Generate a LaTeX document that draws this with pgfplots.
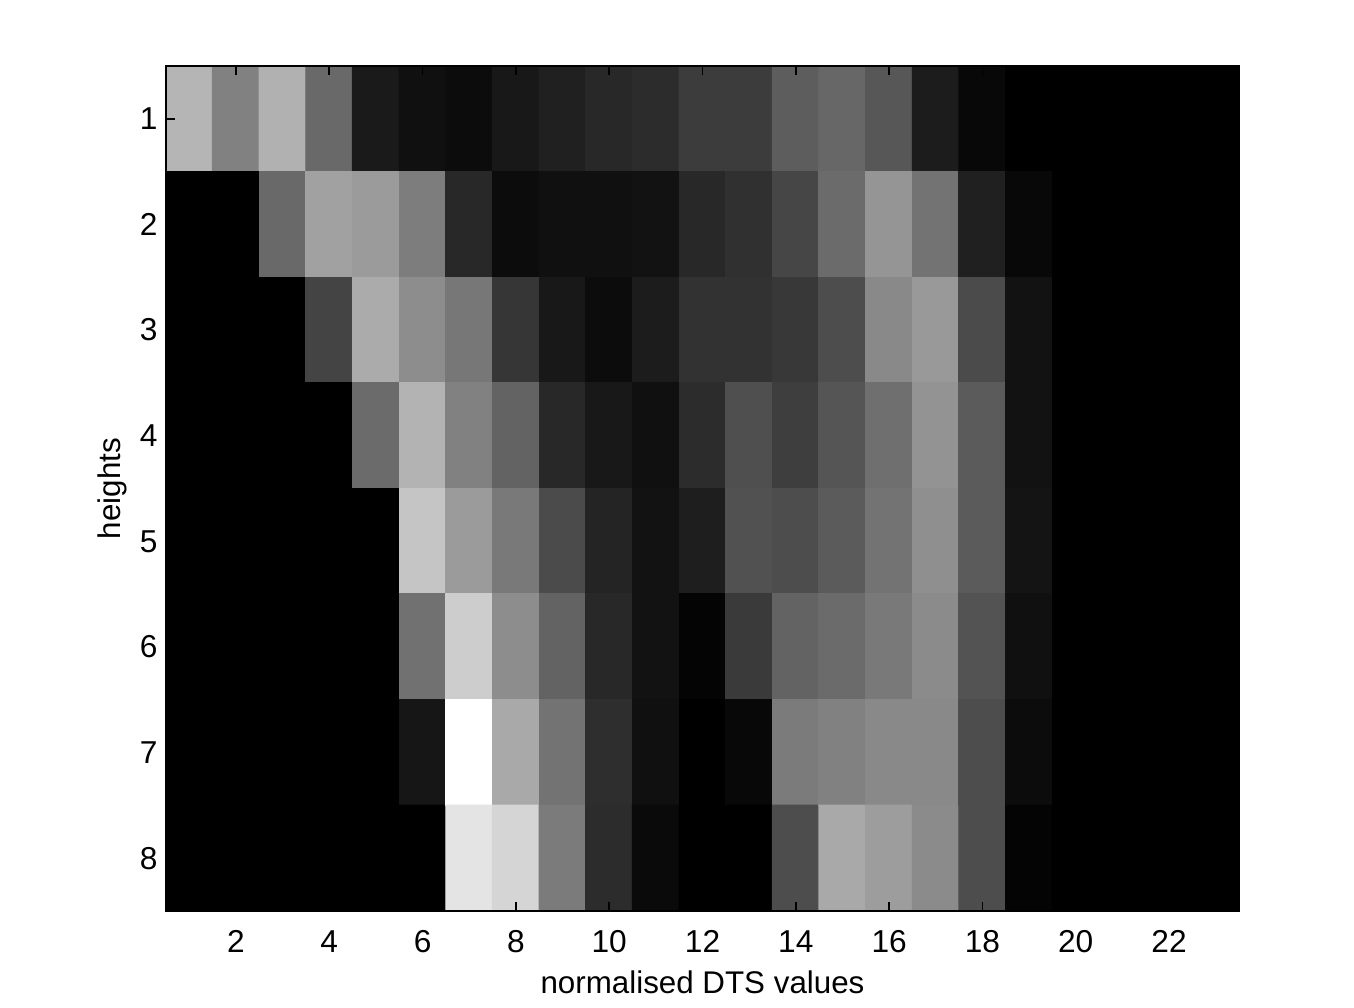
\documentclass[border=0pt]{standalone}
\usepackage{pgfplots}
\pgfplotsset{compat=1.18}
\usepackage{fontspec}
\setmainfont{Liberation Sans}
\newlength{\unitpx}\setlength{\unitpx}{0.3pt}
\begin{document}
\begin{tikzpicture}
\begin{axis}[
  scale only axis,
  width=1073\unitpx, height=845\unitpx,
  xmin=0.5, xmax=23.5, ymin=0.5, ymax=8.5,
  y dir=reverse,
  axis on top,
  xtick={2,4,...,22}, ytick={1,...,8},
  major tick length=2.7pt,
  tick style={black, line width=0.5pt},
  axis line style={black, line width=0.5pt},
  /pgf/number format/assume math mode=true,
  tick label style={font=\fontsize{9.5}{11}\selectfont},
  xticklabel style={text height=1.6ex, text depth=0pt, yshift=-0.6pt},
  yticklabel style={xshift=1pt},
  label style={font=\fontsize{9.4}{11}\selectfont},
  xlabel={normalised DTS values},
  ylabel={heights},
  xlabel style={yshift=1.6pt},
  ylabel style={yshift=-3pt},
  colormap/blackwhite,
  point meta min=0, point meta max=255,
]
\addplot[matrix plot*, mesh/cols=23, point meta=explicit] coordinates {
(1,1)[180] (2,1)[128] (3,1)[176] (4,1)[104] (5,1)[26] (6,1)[16] (7,1)[12] (8,1)[24] (9,1)[32] (10,1)[40] (11,1)[44] (12,1)[60] (13,1)[60] (14,1)[92] (15,1)[102] (16,1)[86] (17,1)[28] (18,1)[8] (19,1)[0] (20,1)[0] (21,1)[0] (22,1)[0] (23,1)[0]

(1,2)[0] (2,2)[0] (3,2)[104] (4,2)[160] (5,2)[154] (6,2)[124] (7,2)[40] (8,2)[12] (9,2)[16] (10,2)[16] (11,2)[18] (12,2)[40] (13,2)[48] (14,2)[70] (15,2)[106] (16,2)[148] (17,2)[114] (18,2)[32] (19,2)[8] (20,2)[0] (21,2)[0] (22,2)[0] (23,2)[0]

(1,3)[0] (2,3)[0] (3,3)[0] (4,3)[68] (5,3)[170] (6,3)[140] (7,3)[118] (8,3)[54] (9,3)[24] (10,3)[12] (11,3)[28] (12,3)[50] (13,3)[50] (14,3)[56] (15,3)[76] (16,3)[136] (17,3)[152] (18,3)[74] (19,3)[18] (20,3)[0] (21,3)[0] (22,3)[0] (23,3)[0]

(1,4)[0] (2,4)[0] (3,4)[0] (4,4)[0] (5,4)[106] (6,4)[178] (7,4)[128] (8,4)[98] (9,4)[40] (10,4)[24] (11,4)[16] (12,4)[44] (13,4)[78] (14,4)[62] (15,4)[84] (16,4)[110] (17,4)[146] (18,4)[90] (19,4)[18] (20,4)[0] (21,4)[0] (22,4)[0] (23,4)[0]

(1,5)[0] (2,5)[0] (3,5)[0] (4,5)[0] (5,5)[0] (6,5)[196] (7,5)[154] (8,5)[120] (9,5)[74] (10,5)[36] (11,5)[18] (12,5)[30] (13,5)[80] (14,5)[76] (15,5)[90] (16,5)[114] (17,5)[142] (18,5)[90] (19,5)[20] (20,5)[0] (21,5)[0] (22,5)[0] (23,5)[0]

(1,6)[0] (2,6)[0] (3,6)[0] (4,6)[0] (5,6)[0] (6,6)[112] (7,6)[204] (8,6)[140] (9,6)[98] (10,6)[40] (11,6)[18] (12,6)[4] (13,6)[58] (14,6)[98] (15,6)[106] (16,6)[120] (17,6)[138] (18,6)[82] (19,6)[16] (20,6)[0] (21,6)[0] (22,6)[0] (23,6)[0]

(1,7)[0] (2,7)[0] (3,7)[0] (4,7)[0] (5,7)[0] (6,7)[22] (7,7)[255] (8,7)[168] (9,7)[114] (10,7)[46] (11,7)[16] (12,7)[0] (13,7)[8] (14,7)[122] (15,7)[128] (16,7)[136] (17,7)[136] (18,7)[76] (19,7)[12] (20,7)[0] (21,7)[0] (22,7)[0] (23,7)[0]

(1,8)[0] (2,8)[0] (3,8)[0] (4,8)[0] (5,8)[0] (6,8)[0] (7,8)[226] (8,8)[212] (9,8)[122] (10,8)[44] (11,8)[10] (12,8)[0] (13,8)[0] (14,8)[76] (15,8)[168] (16,8)[156] (17,8)[138] (18,8)[76] (19,8)[4] (20,8)[0] (21,8)[0] (22,8)[0] (23,8)[0]
};
\end{axis}
\path[use as bounding box] ([shift={(-166\unitpx,-97\unitpx)}]current axis.south west) rectangle ([shift={(115\unitpx,66\unitpx)}]current axis.north east);
\end{tikzpicture}
\end{document}
